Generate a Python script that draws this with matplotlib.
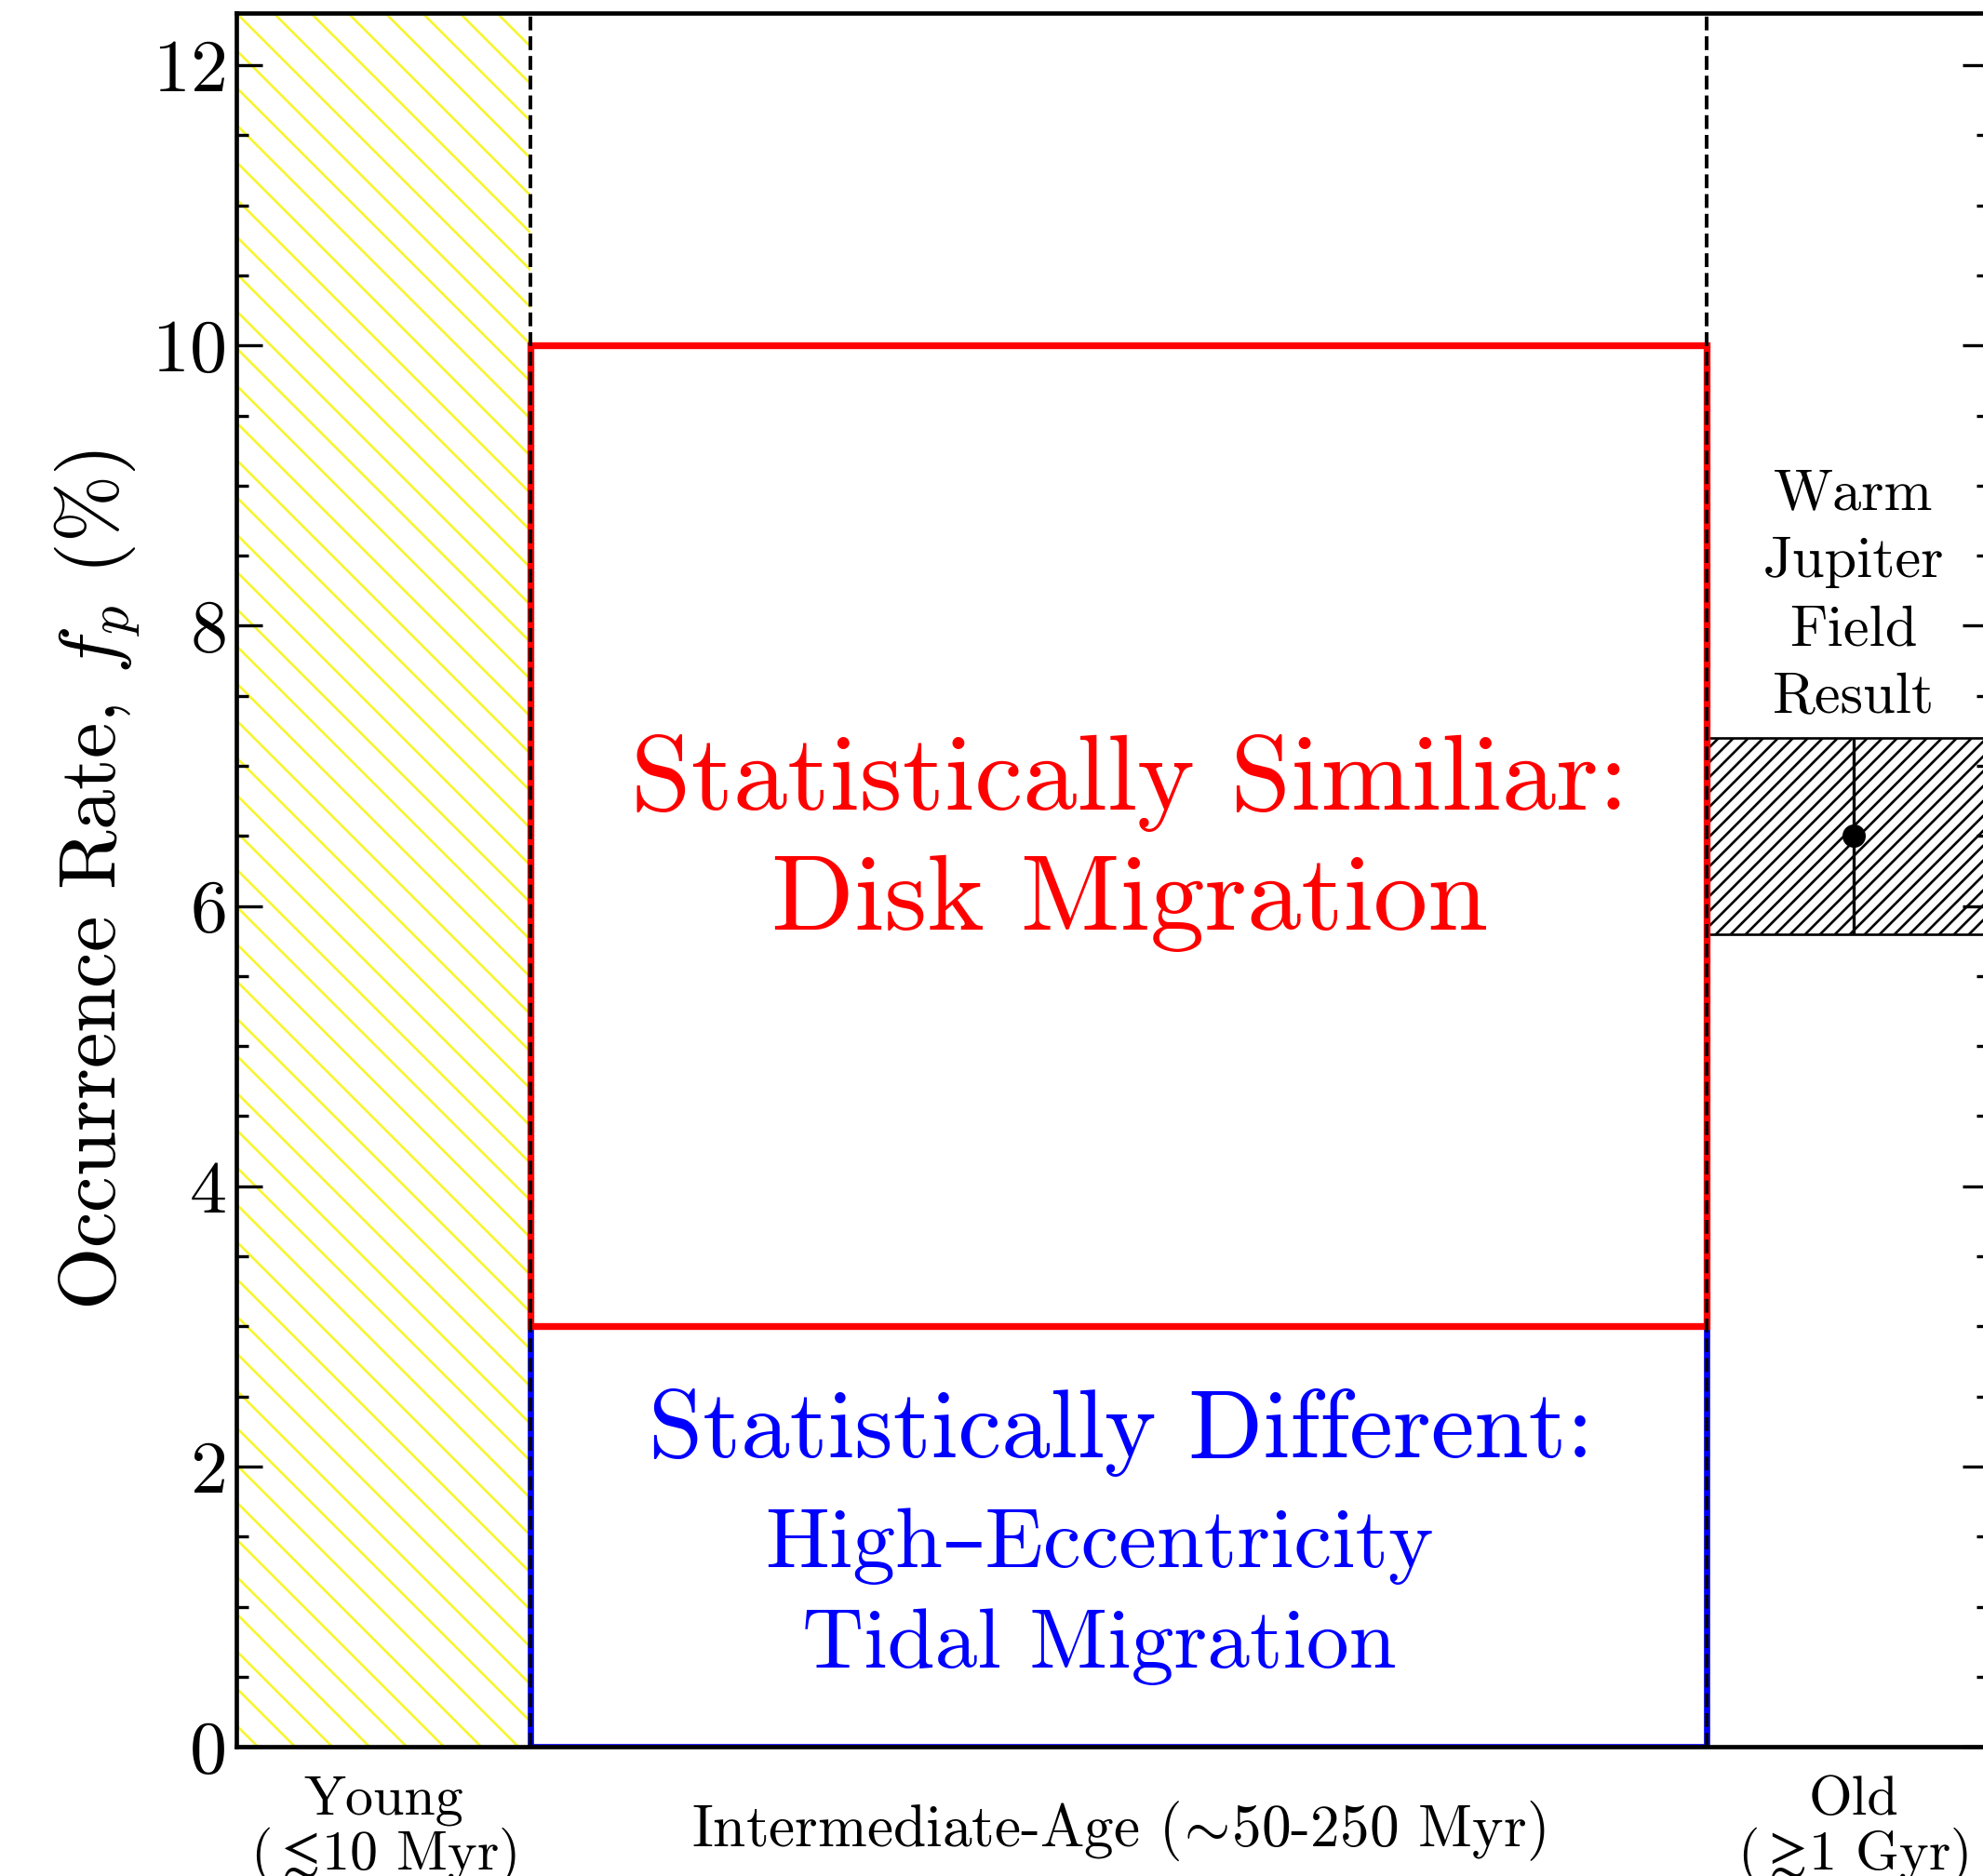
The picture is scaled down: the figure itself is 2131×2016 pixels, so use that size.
import numpy as np
import matplotlib
matplotlib.use('Agg')
import matplotlib.pyplot as plt
from matplotlib.patches import Rectangle

plt.rcParams['font.family'] = ['cmr10', 'DejaVu Serif']
plt.rcParams['mathtext.fontset'] = 'cm'
plt.rcParams['axes.formatter.use_mathtext'] = True
plt.rcParams['hatch.linewidth'] = 0.8

# age bins along x (arbitrary units), and the occurrence-rate bounds
age_edges = [0, 1, 5, 6]
age_centers = [0.5, 3.0, 5.5]
age_labels = ['Young\n(${\\lesssim}\\!$10 Myr)',
              'Intermediate-Age (${\\!\\sim\\!}$50-250 Myr)',
              'Old\n(${\\gtrsim}\\!$1 Gyr)']
age_label_sizes = [18, 19, 18]

tidal_range = [0.0, 3.0]      # statistically different
disk_range = [3.0, 10.0]      # statistically similar
field_rate = 6.5
field_lo = 5.8
field_hi = 7.2

fig = plt.figure(figsize=(2131/240, 2016/240), dpi=240)
ax = fig.add_axes([0.1192, 0.0689, 0.8836, 0.924])

# young clusters: hatched band
ax.add_patch(Rectangle((age_edges[0], 0), age_edges[1]-age_edges[0], 20,
                       fill=False, hatch='\\\\', edgecolor='#f7f530', lw=0, zorder=0))

# intermediate age: the two regimes
ax.add_patch(Rectangle((age_edges[1], tidal_range[0]), age_edges[2]-age_edges[1],
                       tidal_range[1]-tidal_range[0], fill=False, edgecolor='blue', lw=2.0, zorder=2))
ax.add_patch(Rectangle((age_edges[1], disk_range[0]), age_edges[2]-age_edges[1],
                       disk_range[1]-disk_range[0], fill=False, edgecolor='red', lw=2.2, zorder=2))

# field warm jupiters
ax.add_patch(Rectangle((age_edges[2], field_lo), age_edges[3]-age_edges[2], field_hi-field_lo,
                       facecolor='white', hatch='/////', edgecolor='k', lw=0.8, zorder=1))
ax.errorbar([age_centers[2]], [field_rate], yerr=[[field_rate-field_lo], [field_hi-field_rate]],
            fmt='o', color='k', ms=6.5, elinewidth=1.0, capsize=0, zorder=3)

for xe in age_edges[1:3]:
    ax.axvline(xe, ls='--', color='k', lw=1.2, zorder=3)

ax.text(3.04, 6.45, 'Statistically Similiar:\nDisk Migration', color='red',
        fontsize=35, ha='center', va='center', linespacing=1.3)
ax.text(3.01, 2.24, 'Statistically Different:', color='blue',
        fontsize=31.5, ha='center', va='center')
ax.text(2.935, 1.07, 'High\u2013Eccentricity\nTidal Migration', color='blue',
        fontsize=27.5, ha='center', va='center', linespacing=1.4)
ax.text(age_centers[2], 7.3, 'Warm\nJupiter\nField\nResult', fontsize=18.7,
        ha='center', va='bottom', linespacing=1.4)

ax.set_xlim(0, 5.96)
ax.set_ylim(0, 12.37)
ax.set_xticks(age_centers)
ax.set_xticklabels(age_labels, linespacing=1.0)
for lab, fs in zip(ax.get_xticklabels(), age_label_sizes):
    lab.set_va('center')
    lab.set_fontsize(fs)
ax.tick_params(axis='x', length=0, pad=27)

ax.set_yticks(np.arange(0, 13, 2))
ax.set_yticks(np.arange(0, 12.5, 0.5), minor=True)
ax.tick_params(axis='y', which='both', direction='in', left=True, right=True,
               labelsize=24, width=1.0)
ax.tick_params(axis='y', which='major', length=8.5)
ax.tick_params(axis='y', which='minor', length=4)
for t in ax.yaxis.get_minor_ticks():
    t.tick2line.set_color('0.93')

ax.set_ylabel('Occurrence Rate, $f_p$ (%)', fontsize=26, labelpad=3)
for s in ax.spines.values():
    s.set_linewidth(1.4)
    s.set_zorder(4)

fig.savefig('out.png', dpi=240)
